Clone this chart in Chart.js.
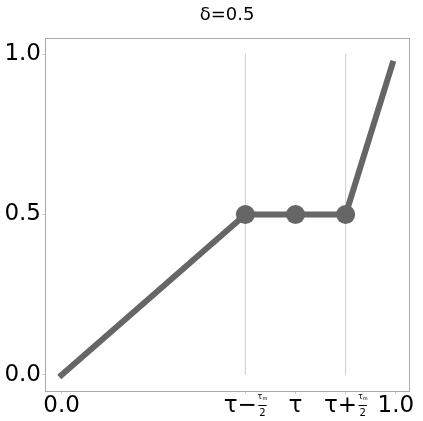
<!DOCTYPE html>
<html>
<head>
<meta charset="utf-8">
<script src="https://cdn.jsdelivr.net/npm/chart.js@4"></script>
<style>
  html, body { margin: 0; padding: 0; background: #fff; }
  #wrap { width: 423px; height: 421px; }
</style>
</head>
<body>
<div id="wrap"><canvas id="chart" width="423" height="421"></canvas></div>
<script>
// values
const titleText = 'δ=0.5';
const lineX = [0, 0.55, 0.7, 0.85, 0.99];
const lineY = [0, 0.5, 0.5, 0.5, 0.97];
const markerShown = [false, true, true, true, false];
const guideX = [0.55, 0.85];
const guideSpan = [0, 1];
const xTickValues = [0, 0.55, 0.7, 0.85, 1.0];
const xTickLabels = ['0.0', 'τ−τm/2', 'τ', 'τ+τm/2', '1.0'];
const yTickValues = [0, 0.5, 1.0];
const yTickLabels = ['0.0', '0.5', '1.0'];

const FONT = '"DejaVu Sans", sans-serif';
const LINE_COLOR = '#666666';

const mainData = lineX.map((x, i) => ({ x, y: lineY[i] }));
const guideSets = guideX.map(gx => ({
    data: guideSpan.map(gy => ({ x: gx, y: gy })),
    borderColor: '#cccccc',
    borderWidth: 1,
    pointRadius: 0,
}));

// draws the frame and the x tick labels (with the small tau_m/2 fractions)
const framePlugin = {
    id: 'frame',
    afterDraw(chart) {
        const { ctx, chartArea: a, scales } = chart;
        ctx.save();
        ctx.strokeStyle = '#aaaaaa';
        ctx.lineWidth = 1;
        ctx.strokeRect(Math.round(a.left) + 0.5, Math.round(a.top) + 0.5,
            Math.round(a.right - a.left), Math.round(a.bottom - a.top));

        ctx.fillStyle = '#000';
        ctx.textBaseline = 'alphabetic';
        const base = 412;
        xTickLabels.forEach((label, i) => {
            const cx = scales.x.getPixelForValue(xTickValues[i]);
            const m = label.match(/^(.*?)(τm\/2)?$/);
            const main = m[1];
            const hasFrac = !!m[2];
            ctx.font = '23px ' + FONT;
            const mainW = ctx.measureText(main).width;
            let fracW = 0;
            if (hasFrac) {
                ctx.font = '10px ' + FONT;
                fracW = ctx.measureText('2').width + 3;
            }
            const gap = hasFrac ? 1 : 0;
            const total = mainW + gap + fracW;
            let x = cx - total / 2;
            ctx.textAlign = 'left';
            ctx.font = '23px ' + FONT;
            ctx.fillText(main, x, base);
            if (hasFrac) {
                const fx = x + mainW + gap;
                const fc = fx + fracW / 2;
                // numerator tau with subscript m
                ctx.font = '8px ' + FONT;
                const tw = ctx.measureText('τ').width;
                ctx.font = '5px ' + FONT;
                const mw = ctx.measureText('m').width;
                const nx = fc - (tw + mw) / 2;
                ctx.font = '8px ' + FONT;
                ctx.fillText('τ', nx, base - 13.5);
                ctx.font = '5px ' + FONT;
                ctx.fillText('m', nx + tw, base - 12);
                // bar
                ctx.fillRect(fx + 0.5, base - 7, fracW - 1, 1);
                // denominator
                ctx.font = '10px ' + FONT;
                ctx.textAlign = 'center';
                ctx.fillText('2', fc, base + 4);
            }
        });
        ctx.restore();
    },
};

new Chart(document.getElementById('chart'), {
    type: 'line',
    data: {
        datasets: [
            {
                data: mainData,
                borderColor: LINE_COLOR,
                borderWidth: 6,
                borderCapStyle: 'square',
                borderJoinStyle: 'round',
                pointRadius: markerShown.map(s => (s ? 9.5 : 0)),
                pointBackgroundColor: LINE_COLOR,
                pointBorderWidth: 0,
                tension: 0,
            },
            ...guideSets,
        ],
    },
    options: {
        responsive: false,
        animation: false,
        devicePixelRatio: 1,
        layout: { padding: { left: 0, right: 14, top: 0, bottom: 0 } },
        plugins: {
            legend: { display: false },
            tooltip: { enabled: false },
            title: {
                display: true,
                text: titleText,
                fullSize: false,
                color: '#000',
                font: { family: FONT, size: 18, weight: 'normal' },
                padding: { top: 5, bottom: 11.4 },
            },
        },
        scales: {
            x: {
                type: 'linear',
                min: -0.0495,
                max: 1.0395,
                afterBuildTicks: s => { s.ticks = xTickValues.map(v => ({ value: v })); },
                afterFit: s => { s.height = 30; },
                ticks: { display: false },
                border: { display: false },
                grid: { drawOnChartArea: false, tickLength: 3, color: '#cccccc' },
            },
            y: {
                type: 'linear',
                min: -0.05,
                max: 1.05,
                afterBuildTicks: s => { s.ticks = yTickValues.map(v => ({ value: v })); },
                afterFit: s => { s.width = 45; },
                ticks: {
                    color: '#000',
                    padding: 1,
                    font: { family: FONT, size: 23 },
                    callback: (v) => yTickLabels[yTickValues.indexOf(v)] ?? '',
                },
                border: { display: false },
                grid: { drawOnChartArea: false, tickLength: 3, color: '#cccccc' },
            },
        },
    },
    plugins: [framePlugin],
});
</script>
</body>
</html>
